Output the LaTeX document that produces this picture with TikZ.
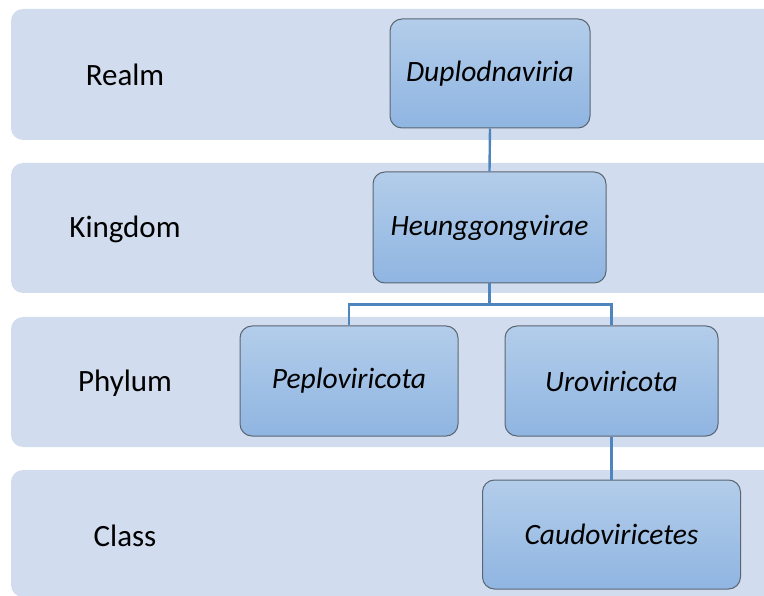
\documentclass[tikz,border=0pt]{standalone}
\usepackage{fontspec}
\setmainfont{Carlito}
\usepackage{xcolor}
\usepackage{tikz}
\usetikzlibrary{positioning, calc}

\definecolor{bandfill}{HTML}{D1DCEE}
\definecolor{taxontop}{HTML}{B3CDEA}
\definecolor{taxonbot}{HTML}{8FB5E1}
\definecolor{taxonline}{HTML}{5B6673}
\definecolor{linkblue}{HTML}{4F85BF}

\begin{document}
\begin{tikzpicture}[x=1pt, y=-1pt]
    % Define styles
    \tikzstyle{band} = [fill=bandfill, rounded corners=12pt]
    \tikzstyle{rank} = [font=\fontsize{31}{36}\selectfont, inner sep=0pt]
    \tikzstyle{taxon} = [rectangle, rounded corners=12pt, draw=taxonline, line width=1pt, top color=taxontop, bottom color=taxonbot, inner sep=0pt, font=\fontsize{29.5}{35}\selectfont\itshape]
    \tikzstyle{link} = [draw=linkblue, line width=2.4pt]

    % Frame
    \clip (0,0) rectangle (764,596);

    % Rank bands
    \fill[band] (11,9) rectangle (800,140);
    \fill[band] (11,163) rectangle (800,293);
    \fill[band] (11,317) rectangle (800,447);
    \fill[band] (11,470) rectangle (800,597);

    % Rank labels
    \node[rank] (realm) at (125,75) {Realm};
    \node[rank] (kingdom) at (125,229) {Kingdom};
    \node[rank] (phylum) at (125,383) {Phylum};
    \node[rank] (class) at (125,536) {Class};

    % Taxa
    \node[taxon, minimum width=200pt, minimum height=109pt] (duplo) at (490,73.5) {Duplodnaviria};
    \node[taxon, minimum width=233pt, minimum height=111pt] (heung) at (489.5,227.5) {Heunggongvirae};
    \node[taxon, minimum width=218pt, minimum height=110pt] (peplo) at (349,381) {Peploviricota};
    \node[taxon, minimum width=213pt, minimum height=110pt] (urov) at (611.5,381) {Uroviricota};
    \node[taxon, minimum width=258pt, minimum height=109pt] (caudo) at (611.5,534.5) {Caudoviricetes};

    % Links
    \draw[link] (duplo.south) -- (heung.north);
    \draw[link] (heung.south) -- ++(0,21) -| (peplo.north);
    \draw[link] (heung.south) -- ++(0,21) -| (urov.north);
    \draw[link] (urov.south) -- (caudo.north);

\end{tikzpicture}
\end{document}
